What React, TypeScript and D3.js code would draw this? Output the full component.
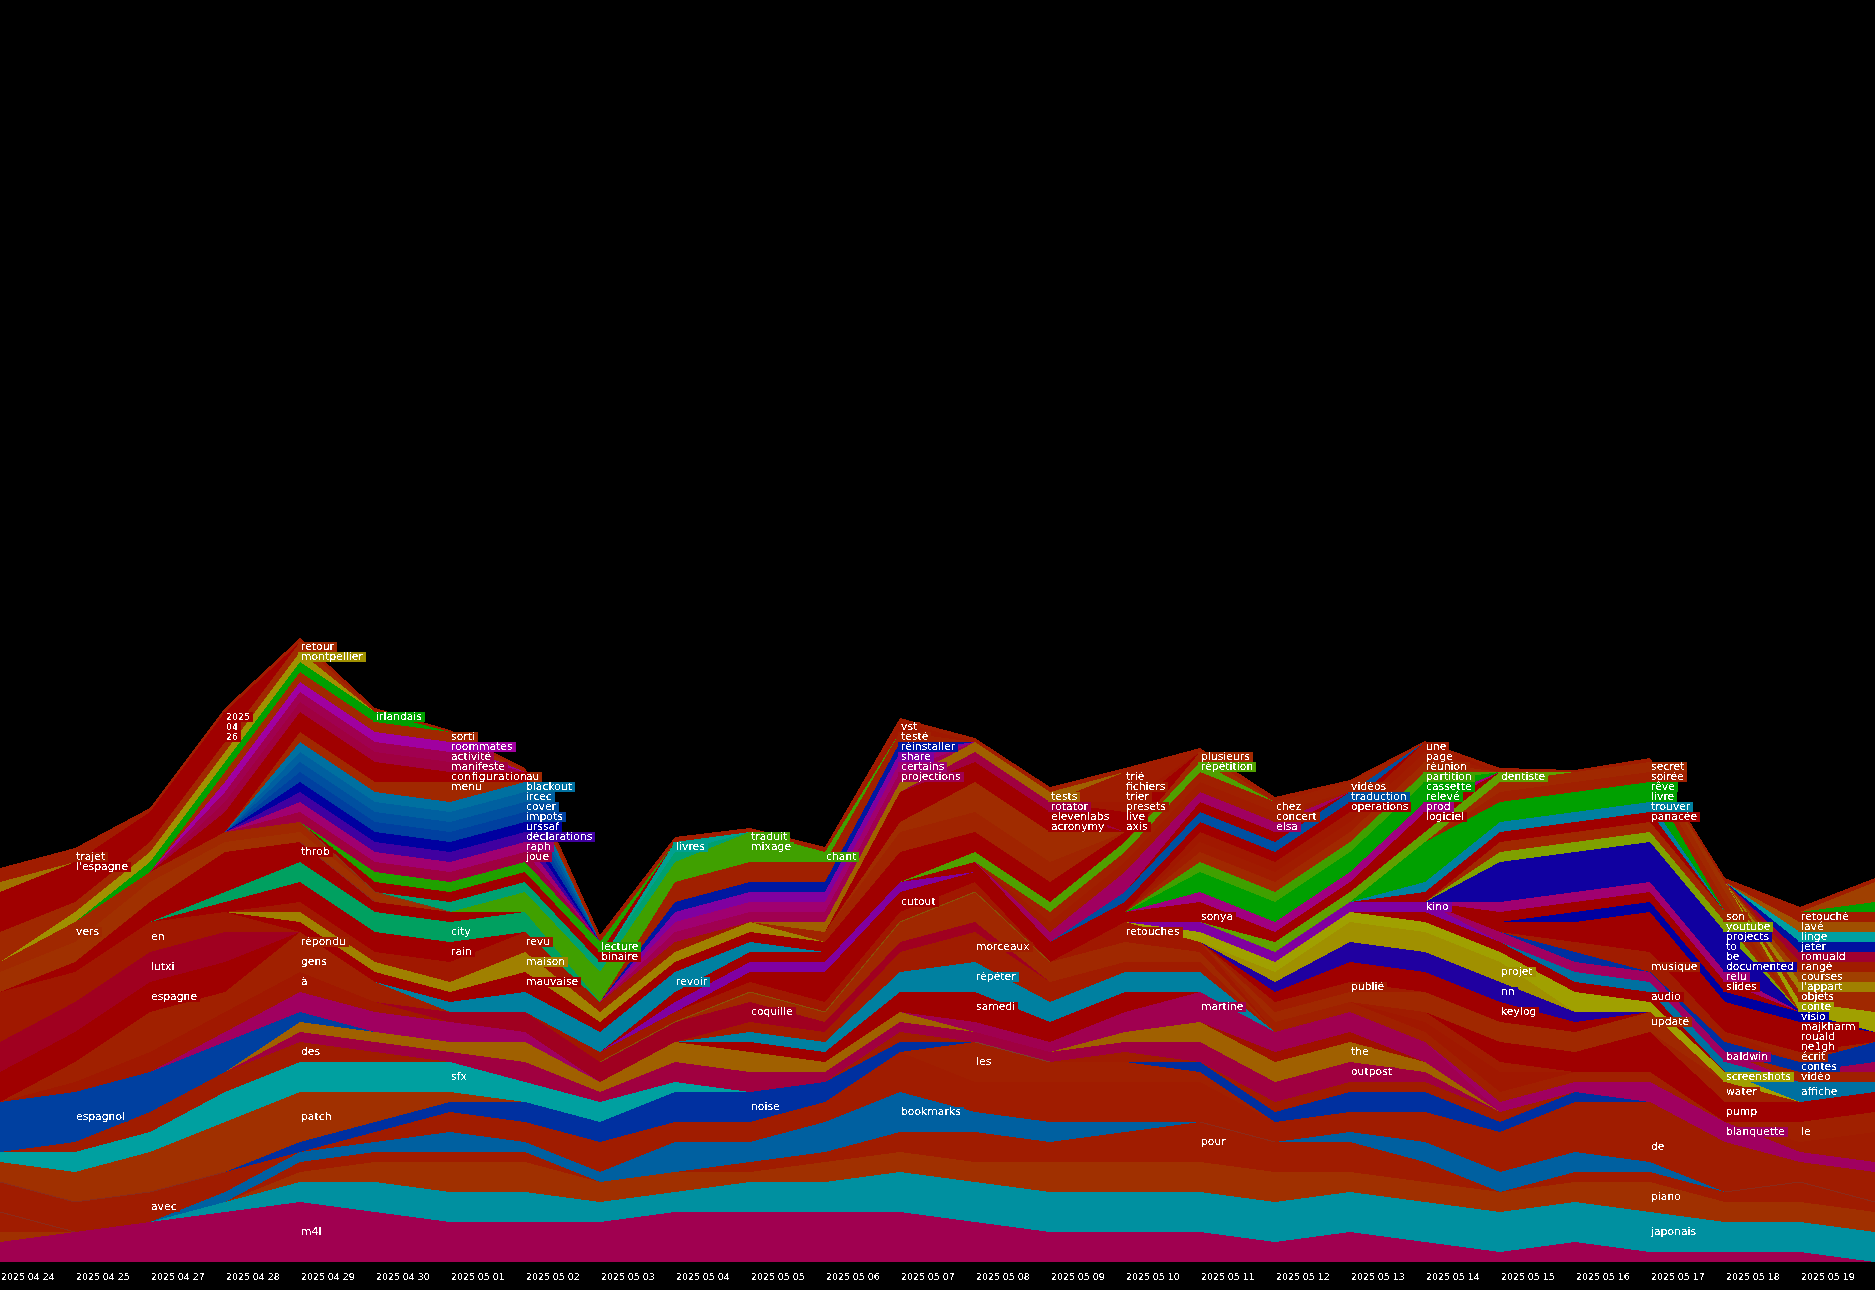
import React from "react";
import * as d3 from "d3";

const W = 1875;
const H = 1290;
const BASE_Y = 1262;
const COLS = 26;

const dates = ["2025 04 24","2025 04 25","2025 04 27","2025 04 28","2025 04 29","2025 04 30","2025 05 01","2025 05 02","2025 05 03","2025 05 04","2025 05 05","2025 05 06","2025 05 07","2025 05 08","2025 05 09","2025 05 10","2025 05 11","2025 05 12","2025 05 13","2025 05 14","2025 05 15","2025 05 16","2025 05 17","2025 05 18","2025 05 19"];

// counts from a column onwards, zero elsewhere
const z = (from: number, vals: number[]) => Array.from({ length: COLS }, (_, i) => vals[i - from] ?? 0);

// bottom to top: stack order
const layerValues: Record<string, number[]> = {
  m4l: [2,3,4,5,6,5,4,4,4,5,5,5,5,4,3,3,3,2,3,2,1,2,1,1,1,0],
  japonais: [0,0,0,1,2,3,3,3,2,2,3,3,4,4,4,4,4,4,4,4,4,4,4,3,3,3],
  piano: [1,0,0,0,1,2,3,3,2,2,1,2,2,2,3,3,3,3,2,2,2,2,3,2,2,2],
  pour: [2,0,0,0,1,1,1,1,0,0,1,1,2,3,2,3,4,3,3,2,0,1,1,1,2,1],
  bookmarks: [0,0,0,1,1,1,2,1,1,3,2,3,4,2,2,1,0,0,1,2,2,2,1,0,0,0],
  avec: [3,3,3,2,0,1,2,2,3,2,2,2,2,1,2,2,2,1,1,1,2,2,0,0,0,0],
  de: z(12,[2,2,2,2,2,1,1,2,2,3,3,4,2,3]),
  les: z(13,[4,2,2,1]),
  sous: z(22,[3,1]),
  noise: [0,0,0,0,1,1,1,2,2,3,3,2,1,0,0,0,1,1,2,2,1,1,0,0,0,0],
  patch: z(0,[2,3,4,5,5,3,1]),
  sfx: z(0,[1,2,2,3,3,3,3,2,2,1]),
  des: [0,1,2,2,2,1,0,0,0,0,0,0,1,0,0,1,0,1,1,1,1,0,0,0,0,0],
  outpost: z(4,[1,1,1,2,1,2,2,1,1,1,1,1,2,2,2,1]),
  the: z(4,[1,1,1,2,1,2,2,1,1,0,0,1,2,2,2,1]),
  espagnol: z(0,[5,5,4,3,1]),
  magenta: z(3,[1,2,2,2,1]),
  "à": z(1,[1,2,2,2,1]),
  rouge: z(17,[1,1]),
  martine: z(13,[1,1,2,3,2,2,2]),
  blanquette: z(20,[1,1,2,2,1,1]),
  rest: z(24,[1,3]),
  le: z(24,[2,2]),
  samedi: z(10,[1,1,2,3,2,2]),
  "répéter": z(10,[1,1,2,3,2,2,2]),
  morceaux: z(10,[1,1,2,3,2,1,1]),
  coquille: z(6,[1,2,2,2,2,1,1,1]),
  gens: z(1,[2,4,2,2,2]),
  "répondu": z(4,[2]),
  espagne: z(0,[3,3,3,3]),
  lutxi: z(0,[3,3,3,3]),
  en: z(0,[5,3,3,2]),
  essai: z(10,[1,1,2,3,2,2,1]),
  retouches: z(8,[1,1,1,1,1,1,0,2,1]),
  a: z(17,[1,1,1,1,1,1]),
  b: z(19,[1,2]),
  c: z(19,[1,1]),
  pump: z(20,[2,2,4,2,2,2]),
  water: z(23,[2]),
  "updaté": z(17,[1,1,2,2,2,2]),
  "publié": z(17,[1,1]),
  keylog: z(17,[1,2,2,2,1]),
  nn: z(17,[1,2,2,2,1]),
  projet: z(17,[1,2,2,2]),
  screenshots: z(16,[1,1,1,1,1,2,1,1]),
  audio: z(19,[1,1,1,1]),
  kino: z(16,[1,1,1,1]),
  cutout: z(10,[1,3,2,1,1,1]),
  violet: z(9,[1,1,1,1]),
  affiche: z(21,[1,1,1,2,1]),
  baldwin: z(20,[1,1,1,1]),
  "vidéo": z(24,[1,1]),
  divers1: z(25,[1]),
  contes: z(21,[1,0,1,1,2]),
  musique: z(21,[1,1,1]),
  divers13: z(22,[1]),
  "écrit": z(24,[1]),
  ne1gh: z(20,[1,1,2,1,1,1]),
  rouald: z(21,[1,1,1,1]),
  majkharm: z(22,[1,1,1]),
  visio: z(21,[1,1,1,1]),
  slides: z(20,[1,1,1,1]),
  relu: z(20,[1,1,1,1]),
  documented: z(20,[1,1,1,1]),
  be: z(20,[1,1,1,1]),
  to: z(20,[1,1,1,1]),
  projects: z(20,[1,1,1,1]),
  youtube: z(20,[1,1,1,1]),
  son: z(20,[1,1,1,1]),
  "panacée": z(19,[1,1,1,1]),
  trouver: z(19,[1,1,1,1]),
  livre: z(19,[2,1,1,1]),
  "rêve": z(19,[2,1,1,1]),
  "soirée": z(20,[1,1,1,1]),
  secret: z(20,[1,1,1,1]),
  divers2: z(23,[1]),
  dentiste: z(17,[1,1,1,1]),
  sonya: z(16,[1,1,1,1]),
  divers7: z(16,[1]),
  logiciel: z(19,[1]),
  prod: z(16,[1,1,1,1]),
  "relevé": z(16,[1,1,1,1]),
  cassette: z(16,[1,1,1,1]),
  partition: z(16,[1,1,1,1]),
  "réunion": z(16,[1,1,1,1]),
  page: z(16,[1,1,1,1]),
  une: z(16,[1,1,1,1]),
  operations: z(13,[1,1,1,1,1,1]),
  traduction: z(15,[1,1,1,1]),
  divers8: z(16,[1,1]),
  elsa: z(14,[1,2,1,1]),
  concert: z(14,[1,1,1,1]),
  chez: z(14,[1,1,1,1]),
  "vidéos": z(18,[1]),
  "répétition": z(13,[1,1,1,1]),
  plusieurs: z(16,[1]),
  divers3: z(9,[1,1,1,1,1,1,1]),
  revoir: z(6,[1,2,2,2,1]),
  mauvaise: z(4,[1,1,1,2,1,1,1,1,2,1,1]),
  maison: z(4,[1,1,1,2,1,1,1]),
  revu: z(4,[1,1,2,2,1,1]),
  rain: z(3,[1,2,2,2]),
  city: z(3,[1,2,2,2,2]),
  throb: z(1,[1,2,4,2,1,1]),
  divers4: z(0,[2,2,2,1,1,1]),
  vers: z(0,[1,2,1,1,1]),
  divers5: z(11,[1,2,2,2]),
  divers6: z(12,[1,3,3]),
  acronymy: z(12,[1,1,1]),
  elevenlabs: z(12,[2,1,1]),
  rotator: z(13,[1,1]),
  axis: z(15,[1]),
  live: z(15,[1]),
  presets: z(15,[1]),
  trier: z(15,[1]),
  fichiers: z(15,[1]),
  "trié": z(15,[1]),
  tests: z(11,[1,1,1,1]),
  projections: z(9,[1,1,1,1]),
  certains: z(9,[1,1,1,1]),
  share: z(9,[1,1,1,1]),
  "réinstaller": z(9,[1,1,1,1]),
  "testé": z(9,[2,2,2,1]),
  chant: z(7,[1,1,1,1,1]),
  mixage: z(7,[1,1,1,1]),
  traduit: z(8,[1,0,1]),
  vst: z(12,[1]),
  divers9: z(6,[1,1,1,1]),
  livres: z(9,[1]),
  binaire: z(5,[1,1,1,1]),
  lecture: z(5,[1,1,1,1]),
  joue: z(4,[1,1,1,1]),
  raph: z(4,[1,1,1,1]),
  "déclarations": z(4,[1,1,1,1]),
  urssaf: z(4,[1,1,1,1]),
  impots: z(4,[1,1,1,1]),
  cover: z(4,[1,1,1,1]),
  ircec: z(4,[1,1,1,1]),
  blackout: z(4,[1,1,1,1]),
  au: z(4,[1,1,1,1]),
  menu: z(6,[1]),
  configuration: z(3,[2,2,2,1]),
  manifeste: z(3,[1,1,1,1]),
  "activité": z(3,[1,1,1,1]),
  roommates: z(3,[1,1,1,1]),
  sorti: z(3,[1,1,1,1]),
  irlandais: z(2,[1,1,1,1]),
  montpellier: z(1,[1,1,1,1]),
  retour: z(0,[3,1,1,1,1]),
  n26: z(0,[1,1,1,1]),
  n04: z(0,[1,1,1,1]),
  n2025: z(0,[2,1,1,1]),
  "l'espagne": z(1,[1]),
  divers10: z(0,[1]),
  trajet: z(0,[1,1]),
  conte: z(24,[1,2]),
  objets: z(24,[1,2]),
  "l'appart": z(24,[1,1]),
  courses: z(24,[1,1]),
  "rangé": z(24,[1,1]),
  romuald: z(24,[1,1]),
  jeter: z(24,[1,1]),
  linge: z(24,[1,1]),
  "lavé": z(24,[1,1]),
  "retouché": z(24,[1,1]),
  divers11: z(25,[1]),
  divers12: z(25,[2]),
  reste: [.4,.4,.4,.4,.4,.4,.2,.4,.7,.5,.4,.5,.4,.4,.5,.4,.4,.5,.2,.1,.4,.2,.4,.4,.5,.4],
};

const layerColors: Record<string, string> = {
  m4l:"#a00050",japonais:"#0090a0",piano:"#a03000",pour:"#a01c00",bookmarks:"#0060a0",avec:"#a01c00",de:"#a01c00",les:"#a02000",sous:"#a01c00",noise:"#0030a0",patch:"#a03000",sfx:"#00a0a0",des:"#a01c00",outpost:"#a00040",the:"#a06000",espagnol:"#0040a0",magenta:"#a00060","à":"#a01800",rouge:"#a01000",martine:"#a00050",blanquette:"#a00060",rest:"#a01c00",le:"#a02000",samedi:"#a00000","répéter":"#0080a0",morceaux:"#a01c00",coquille:"#a00020",gens:"#a02000","répondu":"#a02000",espagne:"#a00000",lutxi:"#a00020",en:"#a01800",essai:"#a02800",retouches:"#a01800",a:"#a02000",b:"#a01800",c:"#a01c00",pump:"#a00000",water:"#a02000","updaté":"#a02800","publié":"#a01c00",keylog:"#a00000",nn:"#2000a0",projet:"#a09000",screenshots:"#a0a000",audio:"#a00000",kino:"#8000a0",cutout:"#a00000",violet:"#8000a0",affiche:"#0070a0",baldwin:"#a00060","vidéo":"#a02000",divers1:"#a00050",contes:"#0030a0",musique:"#a01c00",divers13:"#a01c00","écrit":"#a02000",ne1gh:"#a00000",rouald:"#a00000",majkharm:"#a00000",visio:"#0000a0",slides:"#a00000",relu:"#a00070",projects:"#1000a0",to:"#1000a0",be:"#1000a0",documented:"#1000a0",youtube:"#80a000",son:"#a02800","panacée":"#a00000",trouver:"#0080a0",livre:"#00a000","rêve":"#00a000","soirée":"#a02000",secret:"#a02800",divers2:"#a03000",dentiste:"#60a000",sonya:"#a00000",divers7:"#a00000",logiciel:"#a00000",prod:"#a00080","relevé":"#00a000",cassette:"#00a000",partition:"#40a000","réunion":"#a02800",page:"#a01c00",une:"#a01800",operations:"#a00000",traduction:"#0050a0",divers8:"#a00000",elsa:"#a00060",concert:"#a01c00",chez:"#a02000","vidéos":"#a02000","répétition":"#50a000",plusieurs:"#a02800",divers3:"#a00000",revoir:"#0080a0",mauvaise:"#a00000",maison:"#a08000",revu:"#a01800",rain:"#a00000",city:"#00a060",throb:"#a00000",divers4:"#a03000",vers:"#a02800",divers5:"#a02400",divers6:"#a02c00",acronymy:"#a00000",elevenlabs:"#a00000",rotator:"#a00040",axis:"#a00000",live:"#a00000",presets:"#a01800",trier:"#a01c00",fichiers:"#a01c00","trié":"#a01c00",tests:"#a06000",projections:"#a00050",certains:"#a00070",share:"#8000a0","réinstaller":"#0018a0","testé":"#a02000",chant:"#40a000",mixage:"#40a000",traduit:"#40a000",vst:"#a01800",divers9:"#00a070",livres:"#00a090",binaire:"#a00000",lecture:"#20a000",joue:"#a00040",raph:"#a00070","déclarations":"#4000a0",urssaf:"#0000a0",impots:"#0040a0",cover:"#0050a0",ircec:"#0060a0",blackout:"#0070a0",au:"#a02800",menu:"#a02800",configuration:"#a00000",manifeste:"#a00040","activité":"#a00050",roommates:"#a000a0",sorti:"#a02800",irlandais:"#00a000",montpellier:"#a09000",retour:"#a02800",n26:"#a00000",n04:"#a00000",n2025:"#a00000","l'espagne":"#a00000",divers10:"#a07000",trajet:"#a01c00",conte:"#a0a000",objets:"#a02800","l'appart":"#a08000",courses:"#a04000","rangé":"#a01c00",romuald:"#a00030",jeter:"#0010a0",linge:"#00a0a0","lavé":"#a05000","retouché":"#a01c00",divers11:"#00a000",divers12:"#a04000",reste:"#a01c00",
};

// the column on which each word is written
const labelColumn: Record<string, number> = {
  trajet:1,"l'espagne":1,vers:1,espagnol:1,en:2,lutxi:2,espagne:2,avec:2,n2025:3,n04:3,n26:3,
  retour:4,montpellier:4,throb:4,"répondu":4,gens:4,"à":4,des:4,patch:4,m4l:4,irlandais:5,
  sorti:6,roommates:6,"activité":6,manifeste:6,configuration:6,menu:6,city:6,rain:6,sfx:6,
  au:7,blackout:7,ircec:7,cover:7,impots:7,urssaf:7,"déclarations":7,raph:7,joue:7,revu:7,maison:7,mauvaise:7,
  lecture:8,binaire:8,livres:9,revoir:9,traduit:10,mixage:10,coquille:10,noise:10,chant:11,
  vst:12,"testé":12,"réinstaller":12,share:12,certains:12,projections:12,cutout:12,bookmarks:12,
  morceaux:13,"répéter":13,samedi:13,les:13,tests:14,rotator:14,elevenlabs:14,acronymy:14,
  "trié":15,fichiers:15,trier:15,presets:15,live:15,axis:15,retouches:15,
  plusieurs:16,"répétition":16,sonya:16,martine:16,pour:16,chez:17,concert:17,elsa:17,
  "vidéos":18,traduction:18,operations:18,"publié":18,the:18,outpost:18,
  une:19,page:19,"réunion":19,partition:19,cassette:19,"relevé":19,prod:19,logiciel:19,kino:19,
  dentiste:20,projet:20,nn:20,keylog:20,
  secret:22,"soirée":22,"rêve":22,livre:22,trouver:22,"panacée":22,musique:22,audio:22,"updaté":22,de:22,piano:22,japonais:22,
  son:23,youtube:23,projects:23,to:23,be:23,documented:23,relu:23,slides:23,baldwin:23,screenshots:23,water:23,pump:23,blanquette:23,
  "retouché":24,"lavé":24,linge:24,jeter:24,romuald:24,"rangé":24,courses:24,"l'appart":24,objets:24,conte:24,visio:24,majkharm:24,rouald:24,ne1gh:24,"écrit":24,contes:24,"vidéo":24,affiche:24,le:24,
};

// hairlines left by words that drop to nothing: [layer below, first column, last column, colour]
const traces: [string, number, number, string][] = [
  ["essai", 8, 14, "#8a5208"],
  ["pour", 0, 1, "#8a2c1c"],
  ["pour", 23, 25, "#8a2c1c"],
  ["avec", 0, 3, "#8a2c1c"],
  ["bookmarks", 16, 17, "#8a2c1c"],
  ["noise", 13, 14, "#803c30"],
  ["vers", 4, 6, "#803c18"],
  ["throb", 4, 5, "#8a2c1c"],
];

const FONT = '"DejaVu Sans"';
const labelSize = 10.8;
const digitSize = 9.4;
const stretched: Record<string, number> = { configuration: 76 };

const ctx = document.createElement("canvas").getContext("2d")!;
const measure = (s: string, size: number) => {
  ctx.font = `${size}px ${FONT}`;
  return ctx.measureText(s).width;
};

export default function App() {
  const keys = Object.keys(layerValues);
  const rows = d3.range(COLS).map((i) => {
    const r: Record<string, number> = { col: i };
    keys.forEach((k) => (r[k] = layerValues[k][i]));
    return r;
  });
  const series = d3.stack<Record<string, number>>().keys(keys)(rows);
  const x = d3.scaleLinear().domain([0, COLS - 1]).range([0, W]);
  const y = d3.scaleLinear().domain([0, BASE_Y / 10]).range([BASE_Y, 0]);
  const area = d3
    .area<d3.SeriesPoint<Record<string, number>>>()
    .x((d) => x(d.data.col))
    .y0((d) => y(d[0]))
    .y1((d) => y(d[1]));
  const line = d3
    .line<d3.SeriesPoint<Record<string, number>>>()
    .x((d) => x(d.data.col))
    .y((d) => y(d[1]));

  const labels = series
    .filter((s) => labelColumn[s.key] !== undefined)
    .map((s) => {
      const c = labelColumn[s.key];
      const p = s[c];
      const text = s.key.replace(/^n(?=\d)/, "");
      const size = /^\d+$/.test(text) ? digitSize : labelSize;
      return {
        key: s.key,
        text,
        size,
        lx: x(c),
        ly: y((p[0] + p[1]) / 2),
        w: stretched[text] ?? measure(text, size),
        fit: stretched[text],
        fill: layerColors[s.key],
      };
    });

  return (
    <svg
      width={W}
      height={H}
      viewBox={`0 0 ${W} ${H}`}
      style={{ position: "absolute", left: 0, top: 0, display: "block", background: "#000" }}
    >
      <defs>
        <filter id="alias" x="0" y="0" width="100%" height="100%" filterUnits="userSpaceOnUse" colorInterpolationFilters="sRGB">
          <feComponentTransfer>
            <feFuncA type="discrete" tableValues="0 1" />
          </feComponentTransfer>
        </filter>
      </defs>
      <rect x={0} y={0} width={W} height={H} fill="#000" />
      <g shapeRendering="crispEdges">
        {series.map((s) => (
          <path key={s.key} d={area(s) ?? ""} fill={layerColors[s.key]} />
        ))}
        {traces.map(([k, a, b, col], i) => {
          const s = series.find((t) => t.key === k)!;
          return <path key={"tr" + i} d={line(s.slice(a, b + 1) as any) ?? ""} fill="none" stroke={col} strokeWidth={1} />;
        })}
      </g>
      <g shapeRendering="crispEdges">
        {labels.map((l) => (
          <rect key={"bg" + l.key} x={l.lx - 2} y={l.ly - 5.5} width={l.w + 6} height={10} fill={l.fill} />
        ))}
      </g>
      <g fontFamily={FONT} filter="url(#alias)">
        {labels.map((l) => (
          <text
            key={"t" + l.key}
            x={l.lx + 1}
            y={l.ly + 3}
            fontSize={l.size}
            fill="#fff"
            textLength={l.fit}
            lengthAdjust={l.fit ? "spacing" : undefined}
          >
            {l.text}
          </text>
        ))}
        {dates.map((d, i) => (
          <text key={d} x={x(i) + 1} y={1280} fontSize={digitSize} fill="#fff">
            {d}
          </text>
        ))}
      </g>
    </svg>
  );
}
